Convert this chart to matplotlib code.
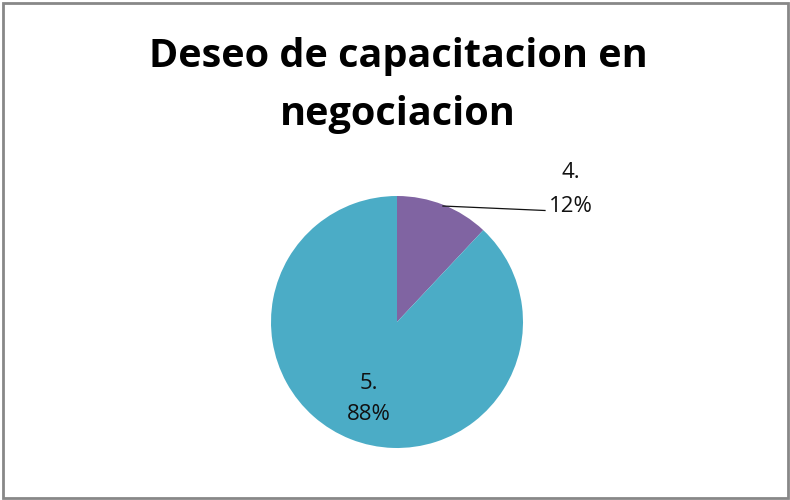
import numpy as np
import matplotlib
matplotlib.use("Agg")
import matplotlib.pyplot as plt
from matplotlib.patches import Rectangle

categories = ["4.", "5."]
values = [12, 88]
pct_labels = ["12%", "88%"]
colors = ["#8064A2", "#4BACC6"]
title_lines = ["Deseo de capacitacion en", "negociacion"]

W, H = 790, 500
fig = plt.figure(figsize=(W / 100, H / 100), dpi=100)
fig.patch.set_facecolor("white")

# pie center (397, 322) px, radius 126 px
cx, cy, r = 397, 322, 126
ax = fig.add_axes([(cx - r) / W, (H - cy - r) / H, 2 * r / W, 2 * r / H])

wedges, _ = ax.pie(values, colors=colors, startangle=90, counterclock=False,
                   radius=1.0, wedgeprops=dict(linewidth=0))
ax.set_xlim(-1, 1)
ax.set_ylim(-1, 1)
ax.set_aspect("equal")
ax.axis("off")

def d(px, py):
    return ((px - cx) / r, (cy - py) / r)

font = "Open Sans"
lbl_size = 16
tcol = "#111111"

# label for slice 1 (outside with leader line)
x, y = d(570.5, 178)
ax.text(x, y, categories[0], ha="center", va="baseline", fontsize=lbl_size, family=font, color=tcol)
x, y = d(570.5, 211.5)
ax.text(x, y, pct_labels[0], ha="center", va="baseline", fontsize=lbl_size, family=font, color=tcol)

w0 = wedges[0]
mid = np.deg2rad((w0.theta1 + w0.theta2) / 2)
sx, sy = 0.99 * np.cos(mid), 0.99 * np.sin(mid)
ex, ey = d(545, 210.5)
ax.plot([sx, ex], [sy, ey], color=tcol, linewidth=0.9, clip_on=False)

# label for slice 2 (inside)
x, y = d(369, 389)
ax.text(x, y, categories[1], ha="center", va="baseline", fontsize=lbl_size, family=font, color=tcol)
x, y = d(369, 420.5)
ax.text(x, y, pct_labels[1], ha="center", va="baseline", fontsize=lbl_size, family=font, color=tcol)

# title
for line, base in zip(title_lines, [67, 125]):
    fig.text(398 / W, 1 - base / H, line, ha="center", va="baseline", fontsize=28.5,
             fontweight="bold", family=font, color="black")

# border
fig.add_artist(Rectangle((3 / W, 2.5 / H), (788 - 3) / W, (497 - 2.5) / H, transform=fig.transFigure,
                         fill=False, edgecolor="#888888", linewidth=2))

fig.savefig("out.png", dpi=100)
